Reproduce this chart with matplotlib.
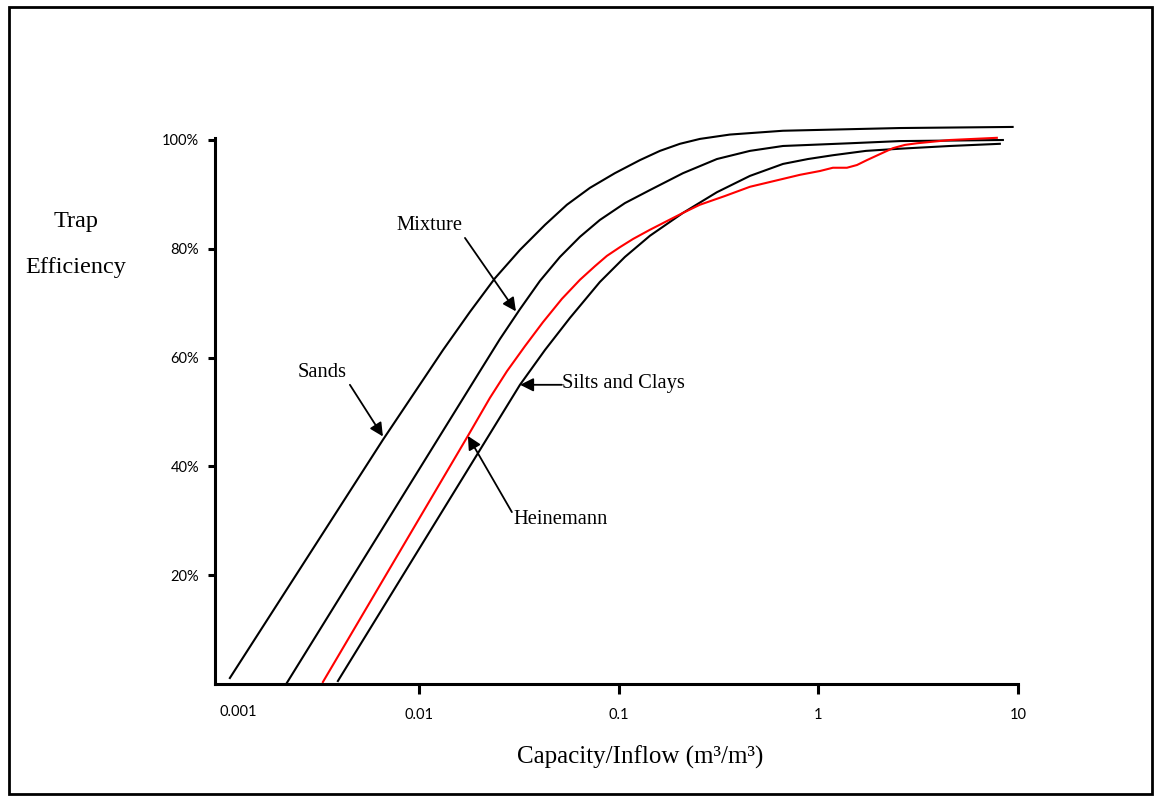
import matplotlib
matplotlib.use("Agg")
import matplotlib.pyplot as plt
from matplotlib.patches import Rectangle

# curves (capacity/inflow ratio, trap efficiency %)
sands_x = [0.00113, 0.006603, 0.0132, 0.0180, 0.02404, 0.03206, 0.04277, 0.05508, 0.07181,
           0.09574, 0.1278, 0.1610, 0.2027, 0.2553, 0.3607, 0.665, 2.56, 9.4]
sands_y = [1.1, 44.9, 61.4, 68.4, 74.6, 79.8, 84.4, 88.1, 91.2,
           93.9, 96.3, 98.0, 99.3, 100.2, 101.0, 101.7, 102.2, 102.4]

mixture_x = [0.00218, 0.0202, 0.02543, 0.03205, 0.04036, 0.05081, 0.0640, 0.08054, 0.1075,
             0.1435, 0.2100, 0.3105, 0.4545, 0.6653, 1.439, 2.563, 8.40]
mixture_y = [0.2, 57.5, 63.4, 68.9, 74.1, 78.5, 82.2, 85.3, 88.4,
             90.8, 93.9, 96.5, 98.0, 98.9, 99.4, 99.8, 100.0]

silts_x = [0.003927, 0.03206, 0.04277, 0.05705, 0.08054, 0.1075, 0.1435, 0.2100, 0.3105,
           0.4545, 0.6653, 0.8869, 1.183, 1.731, 2.563, 4.56, 8.11]
silts_y = [0.55, 55.0, 61.4, 67.3, 73.9, 78.5, 82.4, 86.6, 90.4,
           93.4, 95.6, 96.5, 97.2, 98.0, 98.4, 98.9, 99.3]

heinemann_x = [0.003304, 0.01758, 0.02267, 0.02759, 0.03395, 0.04176, 0.05199, 0.0640, 0.07606,
               0.08735, 0.1015, 0.1180, 0.1435, 0.1746, 0.2100, 0.2553, 0.3404, 0.4545,
               0.6066, 0.8093, 1.019, 1.183, 1.391, 1.561, 1.751, 2.034, 2.364, 2.715,
               3.117, 4.564, 7.834]
heinemann_y = [0.37, 45.6, 52.6, 57.5, 62.1, 66.5, 70.8, 74.3, 76.8,
               78.7, 80.3, 81.8, 83.5, 85.1, 86.6, 88.1, 89.7, 91.4,
               92.5, 93.6, 94.3, 94.9, 94.9, 95.4, 96.3, 97.4, 98.5, 99.1,
               99.4, 100.0, 100.4]

y_ticks = [20, 40, 60, 80, 100]
y_labels = ["20%", "40%", "60%", "80%", "100%"]
x_ticks = [0.01, 0.1, 1, 10]
x_labels = ["0.01", "0.1", "1", "10"]

serif = "Liberation Serif"
sans = "Lato"

W, H = 1155, 796
fig = plt.figure(figsize=(W / 100, H / 100), dpi=100)
ax = fig.add_axes([215 / W, 1 - 684 / H, (1018 - 215) / W, (684 - 112.8) / H])

lw = 1.5
ax.plot(sands_x, sands_y, color="black", lw=lw, clip_on=False)
ax.plot(mixture_x, mixture_y, color="black", lw=lw, clip_on=False)
ax.plot(silts_x, silts_y, color="black", lw=lw, clip_on=False)
ax.plot(heinemann_x, heinemann_y, color="red", lw=lw, clip_on=False)

ax.set_xscale("log")
ax.set_xlim(0.000952, 10)
ax.set_ylim(0, 105)

for s in ["top", "right"]:
    ax.spines[s].set_visible(False)
for s in ["left", "bottom"]:
    ax.spines[s].set_linewidth(2.2)
ax.spines["left"].set_bounds(0, 100.4)

ax.set_yticks(y_ticks)
ax.set_yticklabels(y_labels, fontfamily=sans, fontsize=10.5)
ax.set_xticks(x_ticks)
ax.set_xticklabels(x_labels, fontfamily=sans, fontsize=10.5)
ax.xaxis.set_minor_locator(matplotlib.ticker.NullLocator())
ax.tick_params(axis="y", length=5, width=2.2, pad=6.5)
ax.tick_params(axis="x", length=7, width=2.2, pad=10)
# first decade label sits without a tick mark
ax.annotate("0.001", xy=(0.001, 0), xycoords=("data", "axes fraction"),
            xytext=(0, -20.5), textcoords="offset points", fontfamily=sans,
            fontsize=10.5, ha="left", va="center")

# curve labels with arrows
arrow = dict(arrowstyle="-|>", color="black", lw=1.3, mutation_scale=20,
             shrinkA=0, shrinkB=0)
fs = 14.8
ax.text(0.01135, 84.2, "Mixture", fontfamily=serif, fontsize=fs, ha="center", va="center")
ax.annotate("", xy=(0.0306, 68.5), xytext=(0.0170, 82.0), arrowprops=arrow)
ax.text(0.00327, 57.2, "Sands", fontfamily=serif, fontsize=fs, ha="center", va="center")
ax.annotate("", xy=(0.0066, 45.5), xytext=(0.00451, 55.0), arrowprops=arrow)
ax.text(0.0520, 55.3, "Silts and Clays", fontfamily=serif, fontsize=fs, ha="left", va="center")
ax.annotate("", xy=(0.0321, 55.0), xytext=(0.0520, 55.0), arrowprops=arrow)
ax.text(0.0296, 30.3, "Heinemann", fontfamily=serif, fontsize=fs, ha="left", va="center")
ax.annotate("", xy=(0.01758, 45.6), xytext=(0.0292, 31.6), arrowprops=arrow)

fig.text(76 / W, 1 - 222 / H, "Trap", fontfamily=serif, fontsize=17.5, ha="center", va="center")
fig.text(76 / W, 1 - 267 / H, "Efficiency", fontfamily=serif, fontsize=17.5, ha="center", va="center")
fig.text(640 / W, 1 - 757 / H, "Capacity/Inflow (m\u00b3/m\u00b3)", fontfamily=serif,
         fontsize=18, ha="center", va="center")

fig.add_artist(Rectangle((9 / W, 1 - 794 / H), (1152 - 9) / W, (794 - 7) / H,
                         transform=fig.transFigure, fill=False, edgecolor="black", lw=2))

fig.savefig("out.png", dpi=100)
